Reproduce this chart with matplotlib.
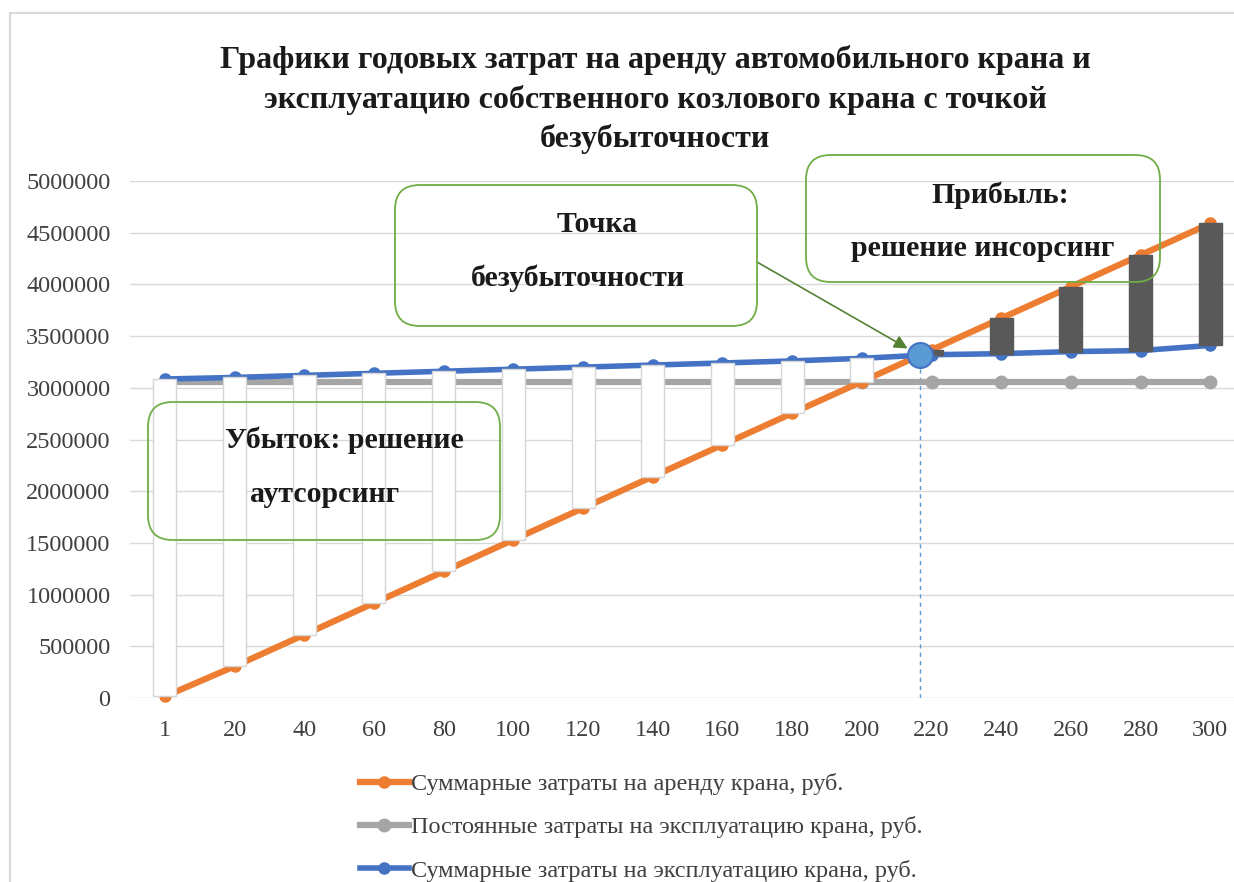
import numpy as np
import matplotlib
matplotlib.use('Agg')
from matplotlib import pyplot as plt
from matplotlib.patches import FancyBboxPatch, Rectangle
from matplotlib.ticker import FuncFormatter

plt.rcParams['font.family'] = ['Liberation Serif', 'DejaVu Serif']

# days of crane work per year
days = [1, 20, 40, 60, 80, 100, 120, 140, 160, 180, 200, 220, 240, 260, 280, 300]
# annual costs, rub.
rent_total = [15300, 306000, 612000, 918000, 1224000, 1530000, 1836000, 2142000,
              2448000, 2754000, 3060000, 3366000, 3672000, 3978000, 4284000, 4590000]
own_fixed = [3060000] * 16
own_total = [3085000, 3100000, 3120000, 3140000, 3160000, 3180000, 3200000, 3220000,
             3240000, 3260000, 3285000, 3320000, 3330000, 3350000, 3360000, 3410000]
series_names = ['Суммарные затраты на аренду крана, руб.',
                'Постоянные затраты на эксплуатацию крана, руб.',
                'Суммарные затраты на эксплуатацию крана, руб.']
title = ('Графики годовых затрат на аренду автомобильного крана и\n'
         'эксплуатацию собственного козлового крана с точкой\n'
         'безубыточности')

W, H = 1234, 882
fig = plt.figure(figsize=(W / 100, H / 100), dpi=100)

def fx(px):
    return px / W

def fy(py):
    return 1 - py / H

# outer chart frame
fig.patches.append(Rectangle((fx(10), -0.1), 1.2, fy(13) + 0.1, transform=fig.transFigure,
                             fill=False, edgecolor='#d9d9d9', lw=1.5))

ax = fig.add_axes([fx(130), fy(698), 1 - fx(130), fy(181) - fy(698)])
x = np.arange(len(days))
rent = np.array(rent_total, dtype=float)
own = np.array(own_total, dtype=float)

ax.plot(x, own_fixed, color='#a5a5a5', lw=4.5, marker='o', ms=9, zorder=2, clip_on=False)
ax.plot(x, rent, color='#ed7d31', lw=4.5, marker='o', ms=8, zorder=2, clip_on=False)
ax.plot(x, own, color='#4472c4', lw=4, marker='o', ms=8, zorder=2, clip_on=False)

# up/down bars between rent and own costs
lo = np.minimum(rent, own)
hi = np.maximum(rent, own)
loss = rent < own
face = ['white' if l else '#595959' for l in loss]
edge = ['#d6d6d6' if l else '#595959' for l in loss]
ax.bar(x, hi - lo, bottom=lo, width=0.33, color=face, edgecolor=edge, lw=1, zorder=3)

# break-even point
d = rent - own
i = int(np.where(np.diff(np.sign(d)) > 0)[0][0])
t = -d[i] / (d[i + 1] - d[i])
bx = x[i] + t
by = own[i] + t * (own[i + 1] - own[i])
ax.plot([bx, bx], [0, by], ls=(0, (3, 3)), color='#5b9bd5', lw=1, zorder=1)
ax.plot(bx, by, 'o', ms=18, mfc='#5b9bd5', mec='#4472c4', mew=1.5, zorder=5)

ax.set_xlim(-0.5, -0.5 + (W - 130) / 69.7)
ax.set_ylim(0, 5000000)
ax.set_yticks(np.arange(0, 5000001, 500000))
ax.yaxis.set_major_formatter(FuncFormatter(lambda v, p: f'{v:.0f}'))
ax.set_xticks(x)
ax.set_xticklabels([str(v) for v in days])
ax.grid(axis='y', color='#d9d9d9', lw=1)
ax.set_axisbelow(True)
for s in ax.spines.values():
    s.set_visible(False)
ax.tick_params(length=0, labelsize=17.5, colors='#404040')
ax.tick_params(axis='x', pad=16)
ax.tick_params(axis='y', pad=14)

fig.text(fx(655), fy(45), title, ha='center', va='top', fontsize=23, weight='bold',
         color='#1a1a1a', linespacing=1.42)

# callout boxes
aspect = W / H
def callout(x0, y0, x1, y1):
    fig.patches.append(FancyBboxPatch((fx(x0), fy(y1)), fx(x1 - x0), fy(y0) - fy(y1),
                                      boxstyle='round,pad=0,rounding_size=0.02',
                                      mutation_aspect=aspect, transform=fig.transFigure,
                                      facecolor='none', edgecolor='#70ad47', lw=1.3,
                                      zorder=1))

def note(px, py, s):
    fig.text(fx(px), fy(py), s, ha='center', va='center', fontsize=21.5,
             weight='bold', color='#1a1a1a', zorder=7)

callout(148, 402, 500, 540)
note(344, 440, 'Убыток: решение')
note(325, 495, 'аутсорсинг')

callout(395, 185, 757, 326)
note(597, 225, 'Точка')
note(578, 278, 'безубыточности')

callout(806, 155, 1160, 282)
note(1000, 195, 'Прибыль:')
note(983, 248, 'решение инсорсинг')

ax.annotate('', xy=(bx, by), xycoords='data', xytext=(fx(757), fy(262)),
            textcoords='figure fraction',
            arrowprops=dict(arrowstyle='-|>', color='#548235', lw=1.2,
                            shrinkA=0, shrinkB=10, mutation_scale=20), zorder=6)

handles = ax.get_lines()
leg = fig.legend([handles[1], handles[0], handles[2]], series_names, loc='upper left',
                 bbox_to_anchor=(fx(360), fy(773)), frameon=False, fontsize=17.5,
                 handlelength=2.0, handletextpad=0.1, labelspacing=0.88,
                 borderaxespad=0, borderpad=0)
for txt in leg.get_texts():
    txt.set_color('#404040')

fig.savefig('out.png', dpi=100)
